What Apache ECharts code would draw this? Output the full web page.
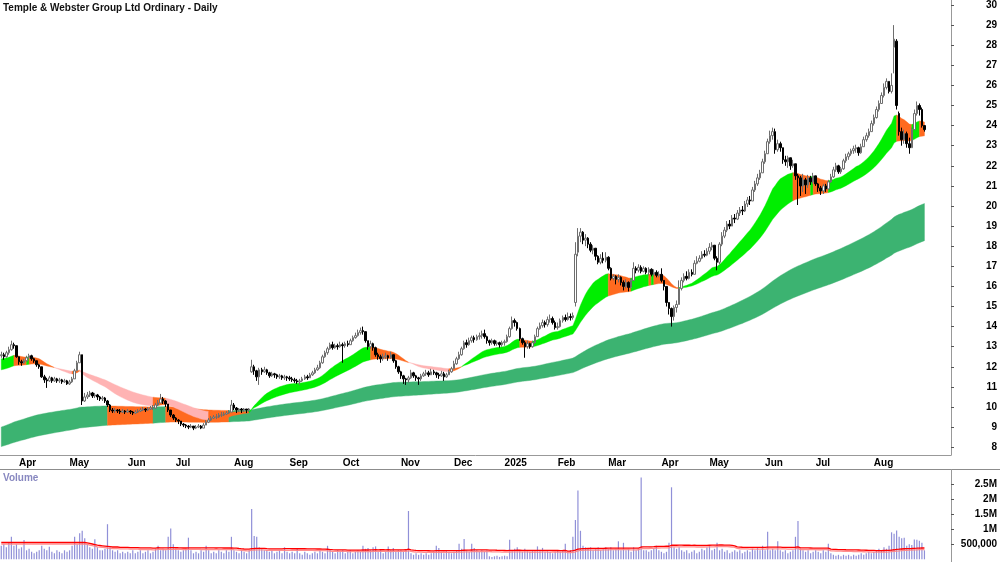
<!DOCTYPE html>
<html>
<head>
<meta charset="utf-8">
<script src="https://cdn.jsdelivr.net/npm/echarts@6/dist/echarts.min.js"></script>
<style>
html,body{margin:0;padding:0;background:#fff}
#main{width:1000px;height:562px}
</style>
</head>
<body>
<div id="main"></div>
<script>
// daily bars, 20 Mar 2024 .. 29 Aug 2025
var closes = [
12.6,12.5,12.7,12.85,13.1,13.05,12.5,
12.25,12.2,12.3,12.45,12.55,12.4,12.3,12.1,12.0,11.5,11.35,11.3,11.45,11.3,11.4,11.3,11.35,11.25,11.3,11.15,
11.25,11.4,11.8,12.2,12.6,10.3,10.5,10.6,10.7,10.55,10.6,10.5,10.4,10.45,10.3,10.1,9.85,9.8,9.85,9.8,9.75,9.8,9.75,
9.8,9.75,9.7,9.75,9.8,9.85,9.9,9.85,9.9,9.95,9.95,10.1,10.2,10.4,10.3,10.15,9.85,9.6,9.45,
9.35,9.3,9.15,9.1,9.05,9.0,9.05,8.95,9.0,9.05,8.95,9.1,9.25,9.35,9.45,9.5,9.5,9.6,9.6,9.65,9.7,9.75,10.1,
9.95,9.85,9.9,9.85,9.9,9.85,9.9,12.0,11.8,11.5,11.85,11.75,11.85,11.7,11.55,11.65,11.6,11.5,11.55,11.45,11.5,11.45,
11.4,11.35,11.3,11.25,11.3,11.4,11.5,11.45,11.6,11.7,11.85,11.95,12.2,12.5,12.7,12.9,13.1,12.95,13.05,13.0,13.1,
13.05,13.15,13.1,13.3,13.45,13.55,13.7,13.8,13.75,13.3,13.0,13.15,12.95,12.6,12.5,12.4,12.5,12.55,12.45,12.6,12.3,12.0,11.75,
11.55,11.4,11.35,11.45,11.7,11.55,11.45,11.4,11.55,11.65,11.7,11.6,11.75,11.7,11.6,11.55,11.65,11.5,11.6,11.75,11.9,
12.15,12.4,12.6,12.9,13.2,13.1,13.3,13.45,13.35,13.5,13.55,13.65,13.5,13.3,13.2,13.3,13.15,13.2,13.1,13.2,
13.25,13.5,13.9,14.3,14.2,13.9,13.4,13.2,13.0,13.15,13.0,13.2,13.5,13.9,14.05,14.2,14.1,14.35,14.4,14.2,13.95,
14.0,14.3,14.45,14.35,14.5,14.45,14.55,17.6,18.5,18.7,18.3,18.4,18.1,17.8,17.9,17.5,17.2,17.4,17.3,17.45,
16.9,16.4,16.5,16.35,16.45,16.2,16.0,16.2,15.95,16.3,16.9,16.8,16.95,16.75,16.9,16.7,16.85,16.6,16.7,16.55,16.6,
16.3,16.0,15.2,14.9,14.5,14.95,15.1,15.9,16.3,16.5,16.4,16.7,16.6,17.15,17.25,17.4,17.6,17.55,17.75,
17.95,18.05,17.4,17.2,18.1,18.5,18.8,19.1,19.0,19.4,19.35,19.65,19.8,19.75,20.1,20.3,20.25,20.8,21.1,21.4,21.65,22.2,
22.6,23.2,23.5,23.7,22.8,23.1,22.9,22.3,22.2,22.4,22.0,22.1,21.5,21.4,21.0,21.3,21.05,21.4,21.2,21.5,
21.1,20.9,20.75,21.0,20.85,21.2,21.45,21.8,22.0,21.7,21.85,22.25,22.45,22.6,22.75,22.85,22.9,22.65,22.95,23.3,23.5,23.7,24.1,
24.4,24.8,25.1,25.5,25.9,26.2,25.7,26.0,28.3,25.0,23.7,23.3,23.6,23.1,22.9,23.8,24.6,25.0,24.8,24.0,23.8
];
var highs = [
12.75,12.7,12.8,13.0,13.3,13.2,13.05,
12.4,12.35,12.4,12.55,12.65,12.6,12.45,12.3,12.15,12.0,11.6,11.45,11.55,11.5,11.5,11.45,11.45,11.4,11.4,11.35,
11.35,11.5,11.9,12.3,12.75,12.6,10.7,10.75,10.8,10.75,10.7,10.65,10.55,10.55,10.5,10.35,10.15,9.95,9.95,9.9,9.9,9.9,9.85,
9.9,9.85,9.8,9.85,9.9,9.95,10.0,9.95,10.0,10.05,10.1,10.2,10.35,10.65,10.5,10.35,10.15,9.85,9.65,
9.5,9.4,9.3,9.2,9.15,9.1,9.15,9.05,9.1,9.15,9.1,9.2,9.35,9.45,9.55,9.6,9.65,9.7,9.75,9.75,9.8,9.85,10.35,
10.2,10.0,9.95,9.95,9.95,9.9,9.95,12.35,12.1,11.85,11.95,11.95,12.0,11.9,11.75,11.75,11.7,11.65,11.65,11.6,11.6,11.55,
11.55,11.5,11.45,11.4,11.4,11.5,11.6,11.6,11.7,11.8,11.95,12.1,12.3,12.6,12.8,13.0,13.2,13.25,13.15,13.15,13.25,
13.2,13.25,13.3,13.4,13.55,13.7,13.85,13.95,14.0,13.75,13.3,13.3,13.2,13.0,12.7,12.6,12.65,12.7,12.6,12.75,12.6,12.35,12.05,
11.8,11.6,11.45,11.55,11.85,11.75,11.6,11.5,11.65,11.75,11.85,11.8,11.9,11.85,11.75,11.7,11.8,11.75,11.7,11.85,12.0,
12.3,12.5,12.75,13.0,13.3,13.35,13.45,13.55,13.55,13.6,13.7,13.8,13.85,13.55,13.35,13.4,13.35,13.3,13.25,13.3,
13.35,13.6,14.0,14.5,14.4,14.25,13.95,13.45,13.3,13.3,13.2,13.3,13.6,14.0,14.2,14.35,14.3,14.5,14.6,14.5,14.3,
14.2,14.4,14.55,14.6,14.7,14.65,14.7,18.2,18.9,18.9,18.75,18.6,18.45,18.2,18.05,17.9,17.55,17.6,17.7,17.7,
17.5,16.95,16.6,16.55,16.6,16.5,16.3,16.35,16.25,16.4,17.2,17.0,17.1,17.05,17.0,16.95,16.95,16.9,16.85,16.8,16.75,
16.9,16.2,15.7,15.2,14.95,15.05,15.3,16.3,16.45,16.65,16.75,16.85,16.85,17.3,17.5,17.55,17.75,17.8,17.9,
18.15,18.2,18.0,17.5,18.2,18.7,18.95,19.25,19.3,19.55,19.6,19.8,19.95,20.0,20.25,20.45,20.5,20.95,21.25,21.6,21.8,22.35,
22.75,23.35,23.75,23.9,23.85,23.3,23.2,22.9,22.5,22.5,22.4,22.3,22.05,21.6,21.5,21.6,21.4,21.55,21.5,21.65,
21.5,21.15,21.0,21.1,21.1,21.3,21.6,21.95,22.15,22.05,21.95,22.35,22.6,22.7,22.85,23.0,23.05,22.95,23.1,23.45,23.65,23.85,24.25,
24.55,24.95,25.25,25.65,26.1,26.35,26.15,26.6,29.0,28.3,24.7,23.9,23.8,23.7,23.4,23.9,24.8,25.2,25.1,24.9,24.0
];
var lows = [
12.45,12.35,12.45,12.6,12.8,12.9,12.45,
12.1,12.05,12.15,12.25,12.4,12.3,12.2,12.0,11.9,11.45,11.2,10.95,11.25,11.2,11.25,11.2,11.2,11.15,11.2,11.1,
11.1,11.2,11.4,11.8,12.2,10.1,10.25,10.4,10.5,10.45,10.45,10.35,10.3,10.3,10.2,10.0,9.75,9.7,9.7,9.7,9.65,9.7,9.65,
9.7,9.65,9.6,9.65,9.7,9.75,9.8,9.75,9.8,9.85,9.85,9.9,10.05,10.2,10.15,10.0,9.75,9.5,9.35,
9.25,9.15,9.05,9.0,8.95,8.9,8.95,8.85,8.9,8.95,8.9,8.95,9.1,9.2,9.3,9.4,9.4,9.45,9.5,9.55,9.6,9.65,9.75,
9.85,9.7,9.75,9.7,9.75,9.7,9.75,11.7,11.6,11.3,11.1,11.6,11.7,11.6,11.45,11.5,11.45,11.4,11.4,11.35,11.35,11.3,
11.3,11.25,11.2,11.15,11.1,11.25,11.35,11.35,11.45,11.55,11.65,11.8,11.9,12.15,12.45,12.6,12.85,12.85,12.9,12.85,12.95,
12.2,12.95,13.0,13.1,13.25,13.4,13.5,13.6,13.6,13.2,12.85,12.9,12.8,12.5,12.35,12.2,12.3,12.4,12.3,12.4,12.2,11.9,11.65,
11.4,11.15,11.1,11.2,11.4,11.45,11.3,11.1,11.3,11.5,11.55,11.5,11.6,11.6,11.45,11.4,11.5,11.3,11.45,11.6,11.7,
11.9,12.1,12.35,12.55,12.85,12.95,13.05,13.2,13.2,13.3,13.35,13.4,13.4,13.15,13.05,13.1,13.05,13.05,12.95,13.0,
13.05,13.2,13.45,13.85,14.0,13.8,13.3,13.1,12.45,12.9,12.9,12.95,13.15,13.5,13.85,13.95,13.95,14.0,14.2,14.1,13.85,
13.85,13.95,14.2,14.25,14.3,14.3,14.35,15.0,17.5,18.2,18.1,18.0,17.9,17.7,17.6,17.3,17.1,17.1,17.15,17.2,
16.8,16.3,16.3,16.1,16.2,16.05,15.8,15.9,15.75,15.9,16.3,16.65,16.7,16.65,16.7,16.6,16.55,16.5,16.5,16.45,16.45,
16.2,15.8,15.0,14.6,14.0,14.3,14.7,15.5,15.8,16.2,16.3,16.35,16.5,16.7,17.1,17.2,17.35,17.45,17.5,
17.6,17.8,17.3,16.8,17.1,18.0,18.4,18.7,18.85,19.0,19.15,19.3,19.5,19.55,19.7,19.95,20.05,20.3,20.7,21.0,21.3,21.7,
22.1,22.6,23.1,23.3,22.6,22.7,22.7,22.1,22.0,21.9,21.8,21.9,21.3,20.05,20.5,20.7,20.6,20.9,21.05,21.1,
21.0,20.7,20.55,20.6,20.7,20.8,21.15,21.4,21.7,21.6,21.6,21.8,22.15,22.3,22.5,22.6,22.65,22.5,22.6,22.95,23.2,23.4,23.7,
24.0,24.35,24.7,25.1,25.4,25.8,25.6,25.6,26.6,24.8,23.5,23.0,23.1,22.9,22.6,22.9,23.8,24.5,24.5,23.9,23.7
];
// opening prices where the bar did not open at the previous close
var gapOpens = {0:12.55, 99:11.75, 227:15.2, 228:17.7, 353:27.9, 354:28.2, 355:24.6};
// volume, millions
var volumes = [
0.45,0.5,0.4,0.55,0.75,0.45,0.5,
0.35,0.4,0.64,0.3,0.35,0.25,0.2,0.25,0.3,0.45,0.35,0.3,0.42,0.25,0.2,0.3,0.25,0.2,0.3,0.25,
0.3,0.45,0.75,0.5,0.87,0.95,0.7,0.5,0.4,0.35,0.67,0.4,0.3,0.3,0.35,1.17,0.4,0.3,0.25,0.3,0.2,0.25,0.2,
0.25,0.2,0.3,0.2,0.25,0.3,0.2,0.25,0.3,0.2,0.25,0.35,0.45,0.3,0.35,0.3,0.75,1.03,0.5,
0.35,0.3,0.25,0.3,0.35,0.72,0.3,0.2,0.25,0.2,0.3,0.25,0.45,0.3,0.2,0.25,0.2,0.3,0.25,0.2,0.3,0.25,0.75,
0.3,0.25,0.2,0.3,0.25,0.2,0.3,1.68,0.78,0.75,0.4,0.35,0.3,0.3,0.25,0.3,0.2,0.25,0.3,0.2,0.4,0.25,
0.2,0.25,0.2,0.38,0.2,0.15,0.25,0.2,0.15,0.2,0.25,0.2,0.3,0.25,0.2,0.45,0.3,0.25,0.2,0.3,0.25,
0.3,0.2,0.25,0.3,0.2,0.25,0.3,0.25,0.45,0.35,0.38,0.3,0.4,0.43,0.25,0.3,0.2,0.25,0.43,0.3,0.38,0.25,0.3,
0.3,0.25,0.3,1.61,0.2,0.15,0.2,0.15,0.2,0.15,0.2,0.15,0.2,0.25,0.45,0.38,0.25,0.2,0.3,0.25,0.2,
0.25,0.3,0.52,0.35,0.68,0.3,0.25,0.52,0.38,0.3,0.25,0.3,0.25,0.3,0.1,0.08,0.1,0.12,0.08,0.1,
0.12,0.1,0.65,0.3,0.35,0.4,0.3,0.25,0.35,0.3,0.25,0.3,0.25,0.43,0.3,0.38,0.25,0.3,0.25,0.2,0.25,
0.3,0.25,0.3,0.52,0.25,0.3,0.75,1.31,2.29,0.95,0.45,0.4,0.35,0.4,0.3,0.35,0.4,0.3,0.35,0.4,
0.35,0.4,0.3,0.35,0.6,0.3,0.55,0.3,0.35,0.25,0.4,0.3,0.35,2.73,0.3,0.3,0.25,0.3,0.35,0.45,0.3,
0.25,0.2,0.25,0.55,2.4,0.4,0.35,0.4,0.3,0.25,0.3,0.2,0.25,0.3,0.2,0.25,0.35,0.3,0.4,
0.45,0.3,0.35,0.55,0.3,0.35,0.25,0.3,0.2,0.25,0.3,0.25,0.3,0.2,0.25,0.3,0.25,0.35,0.3,0.38,0.3,0.45,
0.3,0.92,0.3,0.35,0.3,0.6,0.3,0.25,0.3,0.2,0.25,0.3,0.75,1.28,0.35,0.3,0.25,0.3,0.2,0.25,
0.3,0.25,0.2,0.3,0.25,0.52,0.2,0.15,0.12,0.15,0.1,0.15,0.12,0.15,0.1,0.15,0.12,0.15,0.2,0.15,0.2,0.25,0.2,
0.25,0.3,0.35,0.3,0.4,0.35,0.45,0.9,0.85,0.96,0.75,0.7,0.72,0.45,0.5,0.48,0.66,0.65,0.62,0.55,0.3
];
// volume average for the first bars (its window reaches back before the chart)
var volAvgHead = [
0.56,0.56,0.56,0.56,0.56,0.56,0.56,0.56,0.56,0.56,0.56,0.56,0.56,0.56,0.56,0.56,0.56,
0.56,0.56,0.56,0.56,0.56,0.56,0.56,0.56,0.56,0.56,0.56,0.56,0.56,0.56,0.56,0.56,0.56,
0.55,0.53,0.51,0.49,0.47,0.46,0.45,0.44,0.43,0.42,0.41,
0.41,0.41,0.40,0.40,0.40,0.40,0.39,0.39,0.39,0.39,0.38,0.38,0.38,0.38,0.38,0.37,0.37
];
// moving average starting values at the first bar
var fastSeed = 12.4, slowSeed = 11.85, long1Seed = 9.0, long2Seed = 8.03;
var monthStart = [7,27,50,69,92,114,135,158,179,199,220,240,261,280,302,322,345];
var monthLabel = ['Apr','May','Jun','Jul','Aug','Sep','Oct','Nov','Dec','2025','Feb','Mar','Apr','May','Jun','Jul','Aug'];
var priceTicks = [8,9,10,11,12,13,14,15,16,17,18,19,20,21,22,23,24,25,26,27,28,29,30];
var volTicks = [0.5,1,1.5,2,2.5];

var slots = 376;
var n = closes.length;
var cats = [];
for (var i = 0; i < slots; i++) cats.push(String(i));

var candles = [];
for (var i = 0; i < n; i++) {
    var o = gapOpens[i] !== undefined ? gapOpens[i] : closes[i - 1];
    var c = closes[i];
    candles.push([o, c, Math.min(lows[i], o, c), Math.max(highs[i], o, c)]);
}

function ema(src, period, seed) {
    var k = 2 / (period + 1), e = seed, out = [];
    for (var i = 0; i < src.length; i++) {
        if (i > 0) e = e + k * (src[i] - e);
        out.push(e);
    }
    return out;
}
var fast = ema(closes, 22, fastSeed);
var slow = ema(closes, 45, slowSeed);
var long1 = ema(closes, 150, long1Seed);
var long2 = ema(closes, 230, long2Seed);

var volAvg = [];
for (var i = 0; i < n; i++) {
    if (i < volAvgHead.length) { volAvg.push(volAvgHead[i]); continue; }
    var s = 0;
    for (var j = i - 62; j <= i; j++) s += volumes[j];
    volAvg.push(s / 63);
}

var palette = ['#00ee00', '#ff6a1f', '#ffb3b3', '#3cb371'];
function shortColor(i) {
    var rising = i === 0 || fast[i] >= fast[i - 1];
    if (fast[i] >= slow[i]) return rising ? 0 : 1;
    return rising ? 1 : 2;
}
function longColor(i) {
    return closes[i] < long1[i] ? 1 : 3;
}
// one polygon for every run of bars that share a colour
function ribbon(a, b, colorOf) {
    var lo = [], hi = [], runs = [];
    for (var i = 0; i < a.length; i++) {
        lo.push(Math.min(a[i], b[i]));
        hi.push(Math.max(a[i], b[i]));
    }
    var start = 0, col = colorOf(1);
    for (var i = 1; i < a.length - 1; i++) {
        var c = colorOf(i + 1);
        if (c !== col) { runs.push([start, i, col]); start = i; col = c; }
    }
    runs.push([start, a.length - 1, col]);
    return {lo: lo, hi: hi, runs: runs};
}
function ribbonRender(rb) {
    return function (params, api) {
        var s = api.value(0), e = api.value(1), pts = [];
        for (var i = s; i <= e; i++) pts.push(api.coord([i, rb.lo[i]]));
        for (var i = e; i >= s; i--) pts.push(api.coord([i, rb.hi[i]]));
        var col = palette[api.value(2)];
        return {type: 'polygon', shape: {points: pts}, style: {fill: col, stroke: col, lineWidth: 0.4}};
    };
}
var longRibbon = ribbon(long1, long2, longColor);
var shortRibbon = ribbon(fast, slow, shortColor);

function isMonth(index) { return monthStart.indexOf(index) >= 0; }

var labelFont = {fontFamily: 'Liberation Sans', fontSize: 10, fontWeight: 'bold', color: '#000'};

var chart = echarts.init(document.getElementById('main'));
var option = {
    animation: false,
    backgroundColor: '#fff',
    grid: [
        {left: 0, right: 49, top: 0, height: 455},
        {left: 0, right: 49, top: 469.5, height: 89.8}
    ],
    xAxis: [{
        type: 'category', gridIndex: 0, data: cats, boundaryGap: true,
        axisLine: {lineStyle: {color: '#999', width: 1}},
        axisTick: {interval: isMonth, length: 3, lineStyle: {color: '#555'}},
        axisLabel: Object.assign({
            interval: isMonth, align: 'left', margin: 3,
            formatter: function (v, idx) { return monthLabel[monthStart.indexOf(idx)] || ''; }
        }, labelFont),
        splitLine: {show: false}
    }, {
        type: 'category', gridIndex: 1, data: cats, boundaryGap: true, show: false
    }],
    yAxis: [{
        type: 'value', gridIndex: 0, position: 'right', min: 7.612, max: 30.249,
        axisLine: {show: true, lineStyle: {color: '#999'}},
        axisTick: {show: true, length: 3, customValues: priceTicks, lineStyle: {color: '#555'}},
        axisLabel: Object.assign({customValues: priceTicks, margin: 46, align: 'right'}, labelFont),
        splitLine: {show: false}
    }, {
        type: 'value', gridIndex: 1, position: 'right', min: 0, max: 2.993,
        axisLine: {show: true, lineStyle: {color: '#999'}},
        axisTick: {show: true, length: 3, customValues: volTicks, lineStyle: {color: '#555'}},
        axisLabel: Object.assign({
            customValues: volTicks, margin: 46, align: 'right',
            formatter: function (v) { return v === 0.5 ? '500,000' : v + 'M'; }
        }, labelFont),
        splitLine: {show: false}
    }],
    series: [{
        name: 'long', type: 'custom', xAxisIndex: 0, yAxisIndex: 0, z: 1,
        renderItem: ribbonRender(longRibbon), data: longRibbon.runs, clip: true
    }, {
        name: 'short', type: 'custom', xAxisIndex: 0, yAxisIndex: 0, z: 2,
        renderItem: ribbonRender(shortRibbon), data: shortRibbon.runs, clip: true
    }, {
        name: 'price', type: 'candlestick', xAxisIndex: 0, yAxisIndex: 0, z: 3,
        barWidth: 2, data: candles,
        itemStyle: {color: '#ffffff', color0: '#000000', borderColor: '#6e6e6e', borderColor0: '#000000', borderWidth: 1}
    }, {
        name: 'volume', type: 'bar', xAxisIndex: 1, yAxisIndex: 1,
        barWidth: 1.2, data: volumes, itemStyle: {color: '#9090d8'}
    }, {
        name: 'volAvg', type: 'line', xAxisIndex: 1, yAxisIndex: 1, z: 3,
        data: volAvg, showSymbol: false, smooth: false,
        lineStyle: {color: '#ff0000', width: 1.3, shadowColor: 'rgba(255,130,130,0.9)', shadowOffsetY: 1.6, shadowBlur: 0}
    }],
    graphic: [
        {type: 'line', shape: {x1: 0, y1: 469.5, x2: 1000, y2: 469.5}, style: {stroke: '#8c8c8c', lineWidth: 1}},
        {type: 'line', shape: {x1: 951.5, y1: 469.5, x2: 951.5, y2: 562}, style: {stroke: '#999', lineWidth: 1}},
        {type: 'text', left: 3, top: 3, style: {text: 'Temple & Webster Group Ltd Ordinary - Daily', font: 'bold 10px "Liberation Sans"', fill: '#111'}},
        {type: 'text', left: 3, top: 473, style: {text: 'Volume', font: 'bold 10px "Liberation Sans"', fill: '#8888c0'}}
    ]
};
chart.setOption(option);
</script>
</body>
</html>
